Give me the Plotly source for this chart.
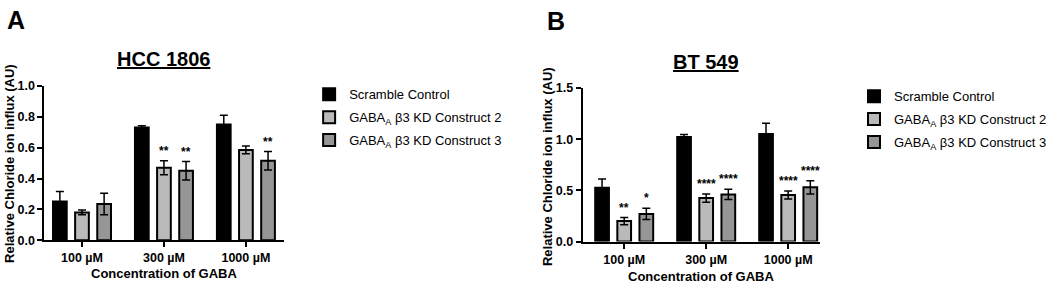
import plotly.graph_objects as go

categories = ["100 µM", "300 µM", "1000 µM"]
series_names = ["Scramble Control", "GABA<sub>A</sub> β3 KD Construct 2", "GABA<sub>A</sub> β3 KD Construct 3"]
colors = ["#000000", "#bababa", "#969696"]

# Panel A: HCC 1806
a_scramble = [0.25, 0.73, 0.75]
a_c2 = [0.18, 0.47, 0.585]
a_c3 = [0.235, 0.45, 0.515]
a_scramble_err = [0.065, 0.012, 0.06]
a_c2_err = [0.015, 0.045, 0.025]
a_c3_err = [0.07, 0.06, 0.06]
a_c2_sig = ["", "**", ""]
a_c3_sig = ["", "**", "**"]

# Panel B: BT 549
b_scramble = [0.525, 1.02, 1.05]
b_c2 = [0.2, 0.425, 0.455]
b_c3 = [0.27, 0.46, 0.53]
b_scramble_err = [0.085, 0.025, 0.105]
b_c2_err = [0.035, 0.04, 0.04]
b_c3_err = [0.055, 0.05, 0.065]
b_c2_sig = ["**", "****", "****"]
b_c3_sig = ["*", "****", "****"]

FONT = "Liberation Sans, Arial, sans-serif"
W, H = 1052, 290


def px(x):
    return x / W


def py(y):
    return 1 - y / H


fig = go.Figure()

panels = [
    dict(vals=[a_scramble, a_c2, a_c3], errs=[a_scramble_err, a_c2_err, a_c3_err],
         sigs=[None, a_c2_sig, a_c3_sig], xa="x", ya="y", legend="legend", g="a"),
    dict(vals=[b_scramble, b_c2, b_c3], errs=[b_scramble_err, b_c2_err, b_c3_err],
         sigs=[None, b_c2_sig, b_c3_sig], xa="x2", ya="y2", legend="legend2", g="b"),
]

slot = (1 - 0.19) / 3
offsets = [-slot, 0, slot]
annotations = []
for p in panels:
    for k in range(3):
        fig.add_trace(go.Bar(
            x=categories, y=p["vals"][k], name=series_names[k],
            marker=dict(color=colors[k], line=dict(color="#000000", width=2)),
            error_y=dict(type="data", array=p["errs"][k], visible=True,
                         color="#000000", thickness=1.5, width=4),
            xaxis=p["xa"], yaxis=p["ya"], legend=p["legend"],
            legendgroup=p["g"] + str(k),
        ))
        if p["sigs"][k]:
            for i, s in enumerate(p["sigs"][k]):
                if s:
                    annotations.append(dict(
                        x=i + offsets[k], y=p["vals"][k][i] + p["errs"][k][i],
                        xref=p["xa"], yref=p["ya"], text="<b>" + s + "</b>",
                        showarrow=False, yanchor="bottom", yshift=1,
                        font=dict(family=FONT, size=12, color="#000")))

axis_common = dict(showline=True, linecolor="#000", linewidth=2, ticks="outside",
                   tickcolor="#000", tickwidth=2, ticklen=5, showgrid=False, zeroline=False,
                   tickfont=dict(family=FONT, size=12.5, color="#000", weight="bold"))

fig.update_layout(
    width=W, height=H, margin=dict(l=0, r=0, t=0, b=0),
    plot_bgcolor="white", paper_bgcolor="white",
    barmode="group", bargap=0.19, bargroupgap=0.38,
    xaxis=dict(domain=[px(45), px(288)], range=[-0.458, 2.47], anchor="y", **axis_common),
    yaxis=dict(domain=[py(245), py(83)], range=[0, 1.0], dtick=0.2, tickformat=".1f",
               anchor="x", **axis_common),
    xaxis2=dict(domain=[px(590), px(830)], range=[-0.506, 2.385], anchor="y2", **axis_common),
    yaxis2=dict(domain=[py(246.5), py(85)], range=[0, 1.5], dtick=0.5, tickformat=".1f",
                anchor="x2", **axis_common),
    legend=dict(x=px(313), y=py(76), xanchor="left", yanchor="top", tracegroupgap=3,
                font=dict(family=FONT, size=13, color="#000"), bgcolor="rgba(0,0,0,0)"),
    legend2=dict(x=px(865), y=py(78), xanchor="left", yanchor="top", tracegroupgap=3,
                 font=dict(family=FONT, size=13, color="#000"), bgcolor="rgba(0,0,0,0)"),
)

text_ann = [
    dict(x=16, y=14, text="<b>A</b>", size=25),
    dict(x=563, y=15, text="<b>B</b>", size=25),
    dict(x=166, y=55, text="<b><u>HCC 1806</u></b>", size=20),
    dict(x=715, y=58, text="<b><u>BT 549</u></b>", size=20),
    dict(x=166, y=280, text="<b>Concentration of GABA</b>", size=13),
    dict(x=710, y=283, text="<b>Concentration of GABA</b>", size=13),
]
for t in text_ann:
    annotations.append(dict(x=px(t["x"]), y=py(t["y"]), xref="paper", yref="paper", text=t["text"],
                            showarrow=False, xanchor="center", yanchor="middle",
                            font=dict(family=FONT, size=t["size"], color="#000")))
for xpx, ypx in [(9, 164), (555, 168)]:
    annotations.append(dict(x=px(xpx), y=py(ypx), xref="paper", yref="paper",
                            text="<b>Relative Chloride ion influx (AU)</b>", textangle=-90,
                            showarrow=False, xanchor="center", yanchor="middle",
                            font=dict(family=FONT, size=13, color="#000")))

fig.update_layout(annotations=annotations)
fig.write_html("out.html", config={"displayModeBar": False},
               post_script="document.body.style.margin='0';")
